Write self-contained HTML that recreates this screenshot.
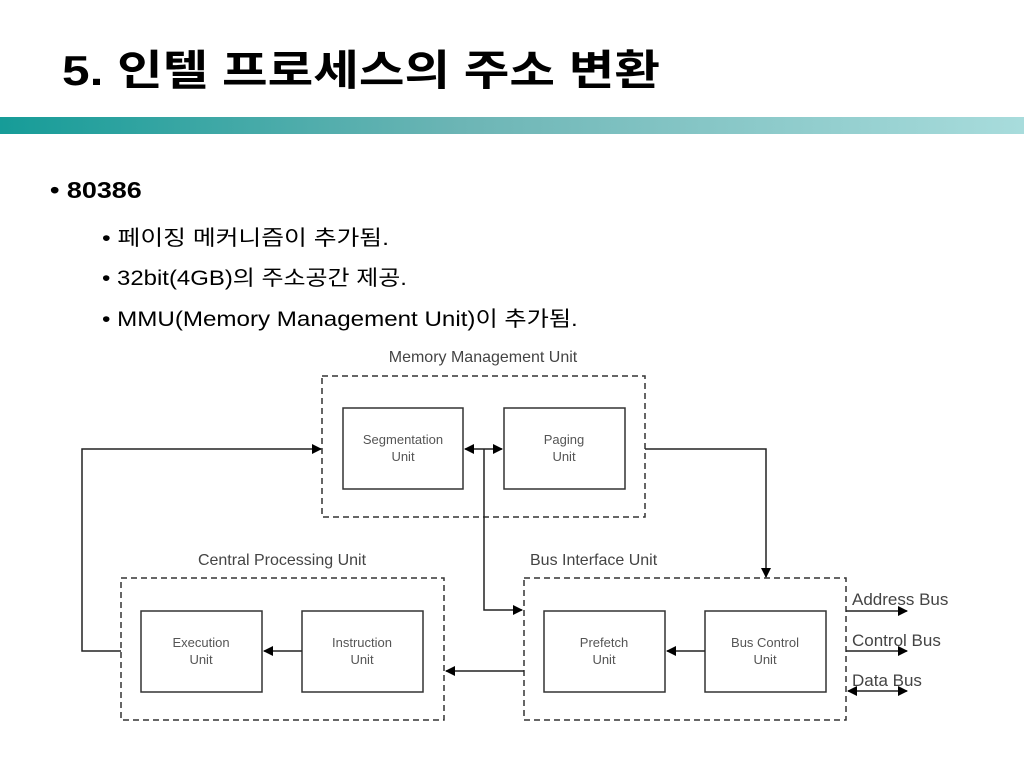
<!DOCTYPE html>
<html><head><meta charset="utf-8"><style>
body{margin:0;width:1024px;height:768px;background:#fff;overflow:hidden;position:relative;font-family:"Liberation Sans","Noto Sans CJK KR",sans-serif}
.t{position:absolute;left:62px;top:50px;font-size:42px;font-weight:bold;color:#000;line-height:1;white-space:nowrap;transform:scaleX(1.18);transform-origin:left top}
.bar{position:absolute;left:0;top:117px;width:1024px;height:17px;background:linear-gradient(90deg,#169c98,#6cb5b5 45%,#a8dcdc)}
.b{position:absolute;color:#000;white-space:nowrap;transform-origin:left top}
</style></head><body>
<div class="t">5. 인텔 프로세스의 주소 변환</div>
<div class="bar"></div>
<div class="b" style="left:50px;top:177px;font-size:23px;font-weight:bold;transform:scaleX(1.17)">• 80386</div>
<div class="b" style="left:102px;top:222px;font-size:21px;transform:scaleX(1.18)">• 페이징 메커니즘이 추가됨.</div>
<div class="b" style="left:102px;top:262px;font-size:21px;transform:scaleX(1.14)">• 32bit(4GB)의 주소공간 제공.</div>
<div class="b" style="left:102px;top:303px;font-size:21px;transform:scaleX(1.15)">• MMU(Memory Management Unit)이 추가됨.</div>
<svg width="1024" height="768" style="position:absolute;left:0;top:0" font-family="Liberation Sans,sans-serif">
<defs><marker id="a" markerWidth="10" markerHeight="10" refX="9" refY="5" orient="auto" markerUnits="userSpaceOnUse"><path d="M0,0L10,5L0,10z" fill="#000"/></marker>
<marker id="s" markerWidth="10" markerHeight="10" refX="1" refY="5" orient="auto" markerUnits="userSpaceOnUse"><path d="M10,0L0,5L10,10z" fill="#000"/></marker></defs>
<g fill="none" stroke="#333" stroke-width="1.5" stroke-dasharray="6,4">
<rect x="322" y="376" width="323" height="141"/>
<rect x="121" y="578" width="323" height="142"/>
<rect x="524" y="578" width="322" height="142"/>
</g>
<g fill="none" stroke="#333" stroke-width="1.5">
<rect x="343" y="408" width="120" height="81"/>
<rect x="504" y="408" width="121" height="81"/>
<rect x="141" y="611" width="121" height="81"/>
<rect x="302" y="611" width="121" height="81"/>
<rect x="544" y="611" width="121" height="81"/>
<rect x="705" y="611" width="121" height="81"/>
</g>
<g fill="none" stroke="#222" stroke-width="1.5">
<line x1="465" y1="449" x2="502" y2="449" marker-start="url(#s)" marker-end="url(#a)"/>
<polyline points="484,449 484,610 522,610" marker-end="url(#a)"/>
<polyline points="645,449 766,449 766,577" marker-end="url(#a)"/>
<polyline points="121,651 82,651 82,449 321,449" marker-end="url(#a)"/>
<line x1="302" y1="651" x2="264" y2="651" marker-end="url(#a)"/>
<line x1="705" y1="651" x2="667" y2="651" marker-end="url(#a)"/>
<line x1="524" y1="671" x2="446" y2="671" marker-end="url(#a)"/>
<line x1="846" y1="611" x2="907" y2="611" marker-end="url(#a)"/>
<line x1="846" y1="651" x2="907" y2="651" marker-end="url(#a)"/>
<line x1="848" y1="691" x2="907" y2="691" marker-start="url(#s)" marker-end="url(#a)"/>
</g>
<g fill="#555" font-size="13" text-anchor="middle">
<text x="403" y="444">Segmentation</text><text x="403" y="461">Unit</text>
<text x="564" y="444">Paging</text><text x="564" y="461">Unit</text>
<text x="201" y="647">Execution</text><text x="201" y="664">Unit</text>
<text x="362" y="647">Instruction</text><text x="362" y="664">Unit</text>
<text x="604" y="647">Prefetch</text><text x="604" y="664">Unit</text>
<text x="765" y="647">Bus Control</text><text x="765" y="664">Unit</text>
</g>
<g fill="#444" font-size="16">
<text x="483" y="362" text-anchor="middle">Memory Management Unit</text>
<text x="282" y="565" text-anchor="middle">Central Processing Unit</text>
<text x="530" y="565">Bus Interface Unit</text>
<text x="852" y="605" font-size="17">Address Bus</text>
<text x="852" y="646" font-size="17">Control Bus</text>
<text x="852" y="686" font-size="17">Data Bus</text>
</g>
</svg>
</body></html>
